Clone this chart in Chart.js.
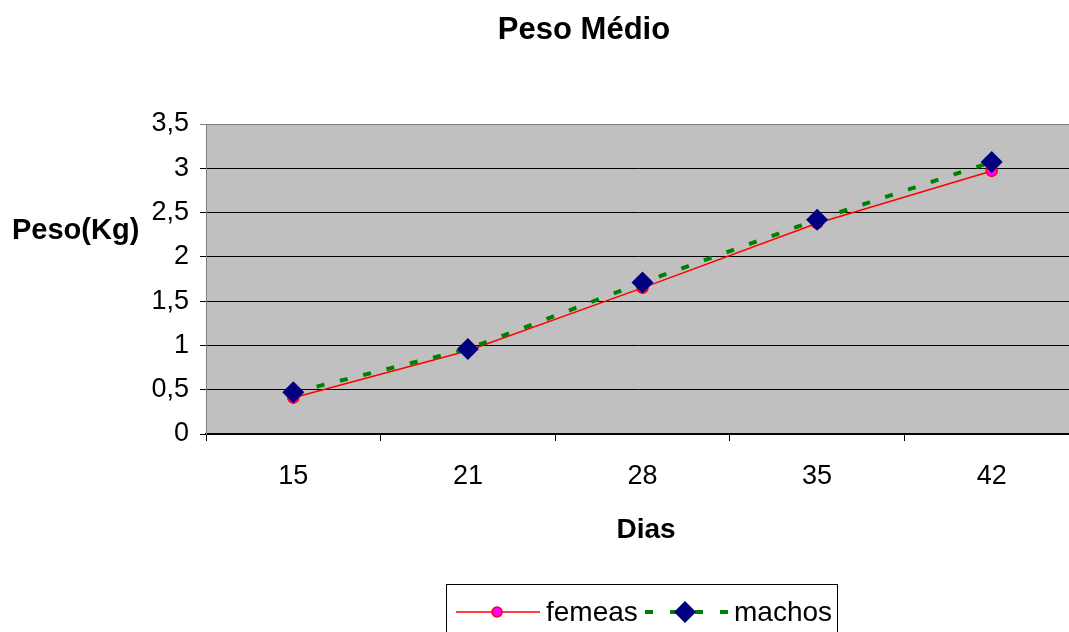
<!DOCTYPE html>
<html>
<head>
<meta charset="utf-8">
<script src="https://cdn.jsdelivr.net/npm/chart.js@4/dist/chart.umd.min.js"></script>
<style>
html,body{margin:0;padding:0;background:#fff;overflow:hidden;}
#wrap{position:absolute;left:0;top:0;width:1069px;height:632px;}
#c{display:block;}
</style>
</head>
<body>
<div id="wrap"><canvas id="c" width="1069" height="632"></canvas></div>
<script>
const chartTitle = 'Peso Médio';
const xTitle = 'Dias';
const yTitle = 'Peso(Kg)';
const categories = ['15', '21', '28', '35', '42'];
const femeas = [0.41, 0.94, 1.65, 2.38, 2.97];
const machos = [0.47, 0.96, 1.71, 2.42, 3.07];
const seriesNames = ['femeas', 'machos'];

const FONT = '"Liberation Sans", Arial, sans-serif';
const PLOT_RIGHT = 1079; // plot area runs past the right edge of the picture

const extendPlot = {
  id: 'extendPlot',
  afterLayout(chart) {
    const a = chart.chartArea;
    a.right = PLOT_RIGHT;
    a.width = a.right - a.left;
    const x = chart.scales.x;
    x.right = PLOT_RIGHT;
    x.width = x.right - x.left;
    x.configure();
    const y = chart.scales.y;
    y.configure();
  }
};

const decor = {
  id: 'decor',
  beforeDraw(chart) {
    const {ctx, chartArea: a} = chart;
    ctx.save();
    ctx.fillStyle = '#C0C0C0';
    ctx.fillRect(a.left, a.top, a.right - a.left, a.bottom - a.top);
    ctx.restore();
  },
  afterDraw(chart) {
    const {ctx, chartArea: a} = chart;
    ctx.save();
    ctx.strokeStyle = '#808080';
    ctx.lineWidth = 1;
    ctx.beginPath();
    ctx.moveTo(a.left + 0.5, a.bottom);
    ctx.lineTo(a.left + 0.5, a.top + 0.5);
    ctx.lineTo(a.right - 0.5, a.top + 0.5);
    ctx.lineTo(a.right - 0.5, a.bottom);
    ctx.stroke();
    ctx.fillStyle = '#000';
    ctx.textBaseline = 'alphabetic';
    ctx.font = 'bold 31px ' + FONT;
    ctx.textAlign = 'center';
    ctx.fillText(chartTitle, 584, 39);
    ctx.font = 'bold 28px ' + FONT;
    ctx.fillText(xTitle, 646, 538);
    ctx.font = 'bold 29px ' + FONT;
    ctx.textAlign = 'left';
    ctx.fillText(yTitle, 12, 239);
    // legend
    ctx.strokeStyle = '#000';
    ctx.lineWidth = 1;
    ctx.strokeRect(446.5, 584.5, 391, 60);
    const ly = 612;
    ctx.strokeStyle = '#FF0000';
    ctx.lineWidth = 1.5;
    ctx.beginPath();
    ctx.moveTo(456, ly); ctx.lineTo(540, ly); ctx.stroke();
    ctx.beginPath();
    ctx.arc(497, ly, 5, 0, Math.PI * 2);
    ctx.fillStyle = '#FF00FF';
    ctx.fill();
    ctx.stroke();
    ctx.fillStyle = '#000';
    ctx.font = '28px ' + FONT;
    ctx.fillText(seriesNames[0], 546, 621);
    ctx.strokeStyle = '#008000';
    ctx.lineWidth = 4;
    ctx.setLineDash([8, 17]);
    ctx.beginPath();
    ctx.moveTo(645, ly); ctx.lineTo(730, ly); ctx.stroke();
    ctx.setLineDash([]);
    ctx.fillStyle = '#000080';
    ctx.beginPath();
    ctx.moveTo(685, ly - 11); ctx.lineTo(696, ly); ctx.lineTo(685, ly + 11); ctx.lineTo(674, ly);
    ctx.closePath(); ctx.fill();
    ctx.fillStyle = '#000';
    ctx.fillText(seriesNames[1], 734, 621);
    ctx.restore();
  }
};

const chart = new Chart(document.getElementById('c'), {
  type: 'line',
  data: {
    labels: categories,
    datasets: [
      {
        label: seriesNames[0],
        data: femeas,
        borderColor: '#FF0000',
        borderWidth: 1.5,
        pointStyle: 'circle',
        pointRadius: 5.5,
        pointBackgroundColor: '#FF00FF',
        pointBorderColor: '#FF0000',
        pointBorderWidth: 1.5,
        tension: 0,
        order: 1
      },
      {
        label: seriesNames[1],
        data: machos,
        borderColor: '#008000',
        borderWidth: 4,
        borderDash: [8, 16],
        borderCapStyle: 'butt',
        pointStyle: 'rectRot',
        pointRadius: 11,
        pointBackgroundColor: '#000080',
        pointBorderColor: '#000080',
        pointBorderWidth: 0,
        tension: 0,
        order: 0
      }
    ]
  },
  options: {
    responsive: false,
    maintainAspectRatio: false,
    animation: false,
    devicePixelRatio: 1,
    layout: {padding: {top: 124, right: 0, left: 0, bottom: 0}},
    plugins: {legend: {display: false}, title: {display: false}, tooltip: {enabled: false}},
    scales: {
      x: {
        type: 'category',
        offset: true,
        afterFit(s) { s.height = 198; },
        grid: {offset: true, drawOnChartArea: false, drawTicks: true, tickLength: 7, color: '#000', lineWidth: 1},
        border: {display: true, color: '#000', width: 2},
        ticks: {color: '#000', font: {family: FONT, size: 27}, padding: 19, maxRotation: 0}
      },
      y: {
        min: 0, max: 3.5,
        afterFit(s) { s.width = 206; },
        grid: {
          color: (c) => (c.tick && c.tick.value === 3.5) ? '#808080' : '#000',
          lineWidth: 1, tickLength: 6, drawTicks: true
        },
        border: {display: true, color: '#808080', width: 1},
        ticks: {
          stepSize: 0.5, color: '#000', padding: 11,
          font: {family: FONT, size: 27},
          callback: (v) => String(v).replace('.', ',')
        }
      }
    }
  },
  plugins: [extendPlot, decor]
});
</script>
</body>
</html>
